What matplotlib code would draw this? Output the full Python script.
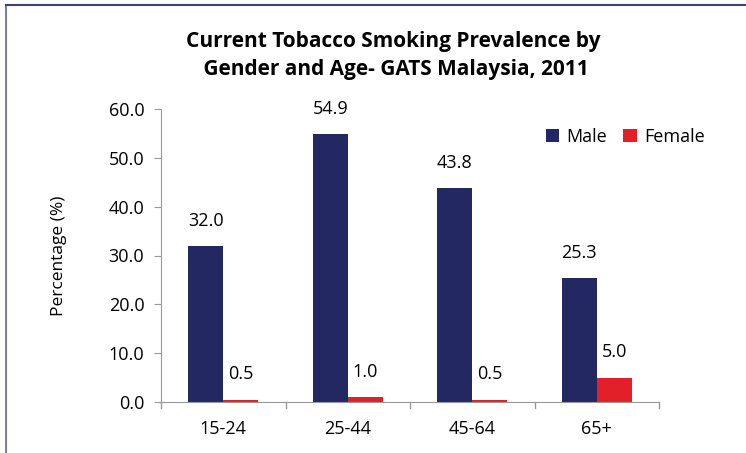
import matplotlib.pyplot as plt
import numpy as np
from matplotlib.lines import Line2D

# data
ages = ['15-24', '25-44', '45-64', '65+']
male = [32.0, 54.9, 43.8, 25.3]
female = [0.5, 1.0, 0.5, 5.0]

plt.rcParams['font.family'] = ['Open Sans', 'DejaVu Sans']

fig = plt.figure(figsize=(7.46, 4.53), dpi=100)
ax = fig.add_axes([161/746, 1 - 402/453, (659 - 161)/746, (402 - 109)/453])

x = np.arange(len(ages))
w = 0.28
b1 = ax.bar(x - w/2, male, w, color='#232862', label='Male')
b2 = ax.bar(x + w/2, female, w, color='#e2202a', label='Female')

for bars, vals in ((b1, male), (b2, female)):
    for r, v in zip(bars, vals):
        ax.text(r.get_x() + r.get_width()/2, v + 3.3, '%.1f' % v,
                ha='center', va='bottom', fontsize=13)

ax.set_xlim(-0.5, len(ages) - 0.5)
ax.set_ylim(0, 60)
ax.set_yticks(np.arange(0, 61, 10))
ax.set_yticklabels(['%.1f' % t for t in np.arange(0, 61, 10)], fontsize=13)
ax.set_xticks(x)
ax.set_xticklabels(ages, fontsize=13)
ax.tick_params(axis='x', length=0, pad=13)
ax.tick_params(axis='y', length=5, color='#999999', pad=7)
# category separator ticks
for s in np.arange(-0.5, len(ages), 1):
    ax.plot([s, s], [0, -1.2], color='#999999', lw=1, clip_on=False)
for sp in ['top', 'right']:
    ax.spines[sp].set_visible(False)
ax.spines['left'].set_color('#999999')
ax.spines['bottom'].set_color('#999999')
ax.set_ylabel('Percentage (%)', fontsize=12.5, labelpad=30)

ax.legend(loc='upper right', bbox_to_anchor=(1.125, 0.99), ncol=2, frameon=False,
          fontsize=13, handlelength=0.75, handleheight=0.75, columnspacing=0.9,
          handletextpad=0.4)

fig.text(0.527, 0.878, 'Current Tobacco Smoking Prevalence by\n Gender and Age- GATS Malaysia, 2011',
         ha='center', va='center', fontsize=15, fontweight='bold', linespacing=1.45)

# frame lines
fig.add_artist(Line2D([6/746, 6/746], [0, 1 - 5/453], color='#7a80a8', lw=1.5))
fig.add_artist(Line2D([6/746, 1], [1 - 5/453, 1 - 5/453], color='#3a4278', lw=1.5))

fig.savefig('out.png', dpi=100)
